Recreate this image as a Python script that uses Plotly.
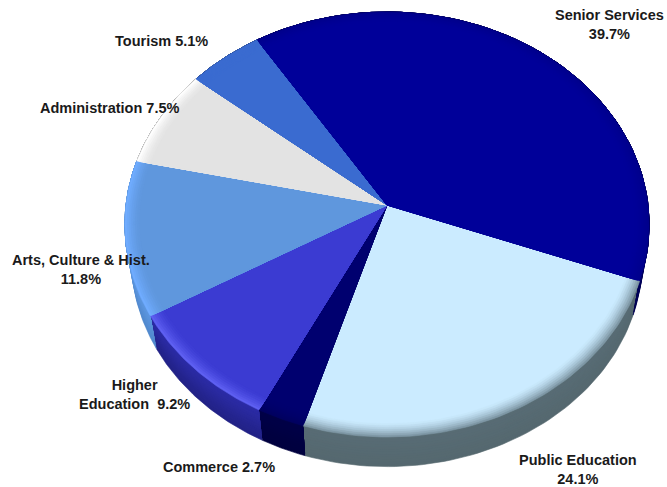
import math
import plotly.graph_objects as go

# ---- chart data (clockwise from the Senior / Public boundary) ----
names = ["Public Education", "Commerce", "Higher Education", "Arts, Culture & Hist.",
         "Administration", "Tourism", "Senior Services"]
shares = [24.1, 2.7, 9.2, 11.8, 7.5, 5.1, 39.7]
value_text = ["24.1%", "2.7%", "9.2%", "11.8%", "7.5%", "5.1%", "39.7%"]

# ---- styling ----
top_colors = ["#CBEBFF", "#00006F", "#3B3BD2", "#5F97DD", "#E3E3E3", "#3A6BD0", "#000099"]
rim_colors = ["#7F98A6", "#000060", "#5E60F2", "#70ACFF", "#FFFFFF", "#3A6BD0", "#00008C"]
side_hi = ["#586C75", "#000048", "#2C2CA8", "#5E98E2", "#B0B0B0", "#2A4C96", "#000060"]
side_lo = ["#55686F", "#00003E", "#222286", "#5088CC", "#909090", "#203C78", "#000050"]

labels = [
    ("Public Education<br>24.1%", 578, 469),
    ("Commerce 2.7%", 219, 467),
    ("Higher<br>Education  9.2%", 134, 394),
    ("Arts, Culture & Hist.<br>11.8%", 81, 269),
    ("Administration 7.5%", 109, 108),
    ("Tourism 5.1%", 161, 41),
    ("Senior Services<br>39.7%", 609, 24),
]

CX, CY = 387.0, 205.0
A, B, K = 261.0, 210.7, 0.0918
START = -20.4
SIDE_R, SIDE_DY = 0.975, 36.0
RIM_START = 0.945


def project(theta, r=1.0, dy=0.0):
    t = math.radians(theta)
    w = 1 + K * r * math.sin(t)
    return CX + A * r * math.cos(t) / w, CY - B * r * math.sin(t) / w + dy


def arc(a0, a1, r=1.0, dy=0.0, n=60):
    pts = [project(a0 + (a1 - a0) * i / n, r, dy) for i in range(n + 1)]
    return [p[0] for p in pts], [p[1] for p in pts]


def mix(c0, c1, f):
    v0 = [int(c0[i:i + 2], 16) for i in (1, 3, 5)]
    v1 = [int(c1[i:i + 2], 16) for i in (1, 3, 5)]
    return "rgb(%d,%d,%d)" % tuple(round(a + (b - a) * f) for a, b in zip(v0, v1))


def poly(fig, xs, ys, color):
    fig.add_trace(go.Scatter(x=xs, y=ys, mode="lines", fill="toself", fillcolor=color,
                             line=dict(color=color, width=0.6), hoverinfo="skip",
                             showlegend=False))


fig = go.Figure()
total = sum(shares)
edges = [START]
for s in shares:
    edges.append(edges[-1] - s / total * 360)

# sides: painted from the outer edge inwards so each step overlaps the next
SIDE_STEPS = 12
for i in range(len(shares)):
    a0, a1 = edges[i], edges[i + 1]
    xt, yt = arc(a0, a1)
    for k in range(SIDE_STEPS, 0, -1):
        f = k / SIDE_STEPS
        xb, yb = arc(a0, a1, 1 + (SIDE_R - 1) * f, SIDE_DY * f)
        poly(fig, xt + xb[::-1], yt + yb[::-1], mix(side_hi[i], side_lo[i], f))

# top faces with a soft rim
RIM_STEPS = 7
for i in range(len(shares)):
    a0, a1 = edges[i], edges[i + 1]
    for k in range(RIM_STEPS, -1, -1):
        f = k / RIM_STEPS
        r = RIM_START + (1 - RIM_START) * f
        xr, yr = arc(a0, a1, r)
        poly(fig, [CX] + xr + [CX], [CY] + yr + [CY], mix(top_colors[i], rim_colors[i], f ** 1.5))

for text, x, y in labels:
    fig.add_annotation(x=x, y=y, text=text, showarrow=False, xanchor="center", yanchor="middle",
                       align="center",
                       font=dict(family="Liberation Sans", size=14.5, color="#1A1A1A", weight="bold"))

fig.update_layout(width=667, height=487, margin=dict(l=0, r=0, t=0, b=0),
                  paper_bgcolor="white", plot_bgcolor="white", showlegend=False,
                  xaxis=dict(range=[0, 667], visible=False, fixedrange=True),
                  yaxis=dict(range=[487, 0], visible=False, fixedrange=True))

fig.write_html("out.html", config={"displayModeBar": False},
               post_script="document.body.style.margin='0';")
